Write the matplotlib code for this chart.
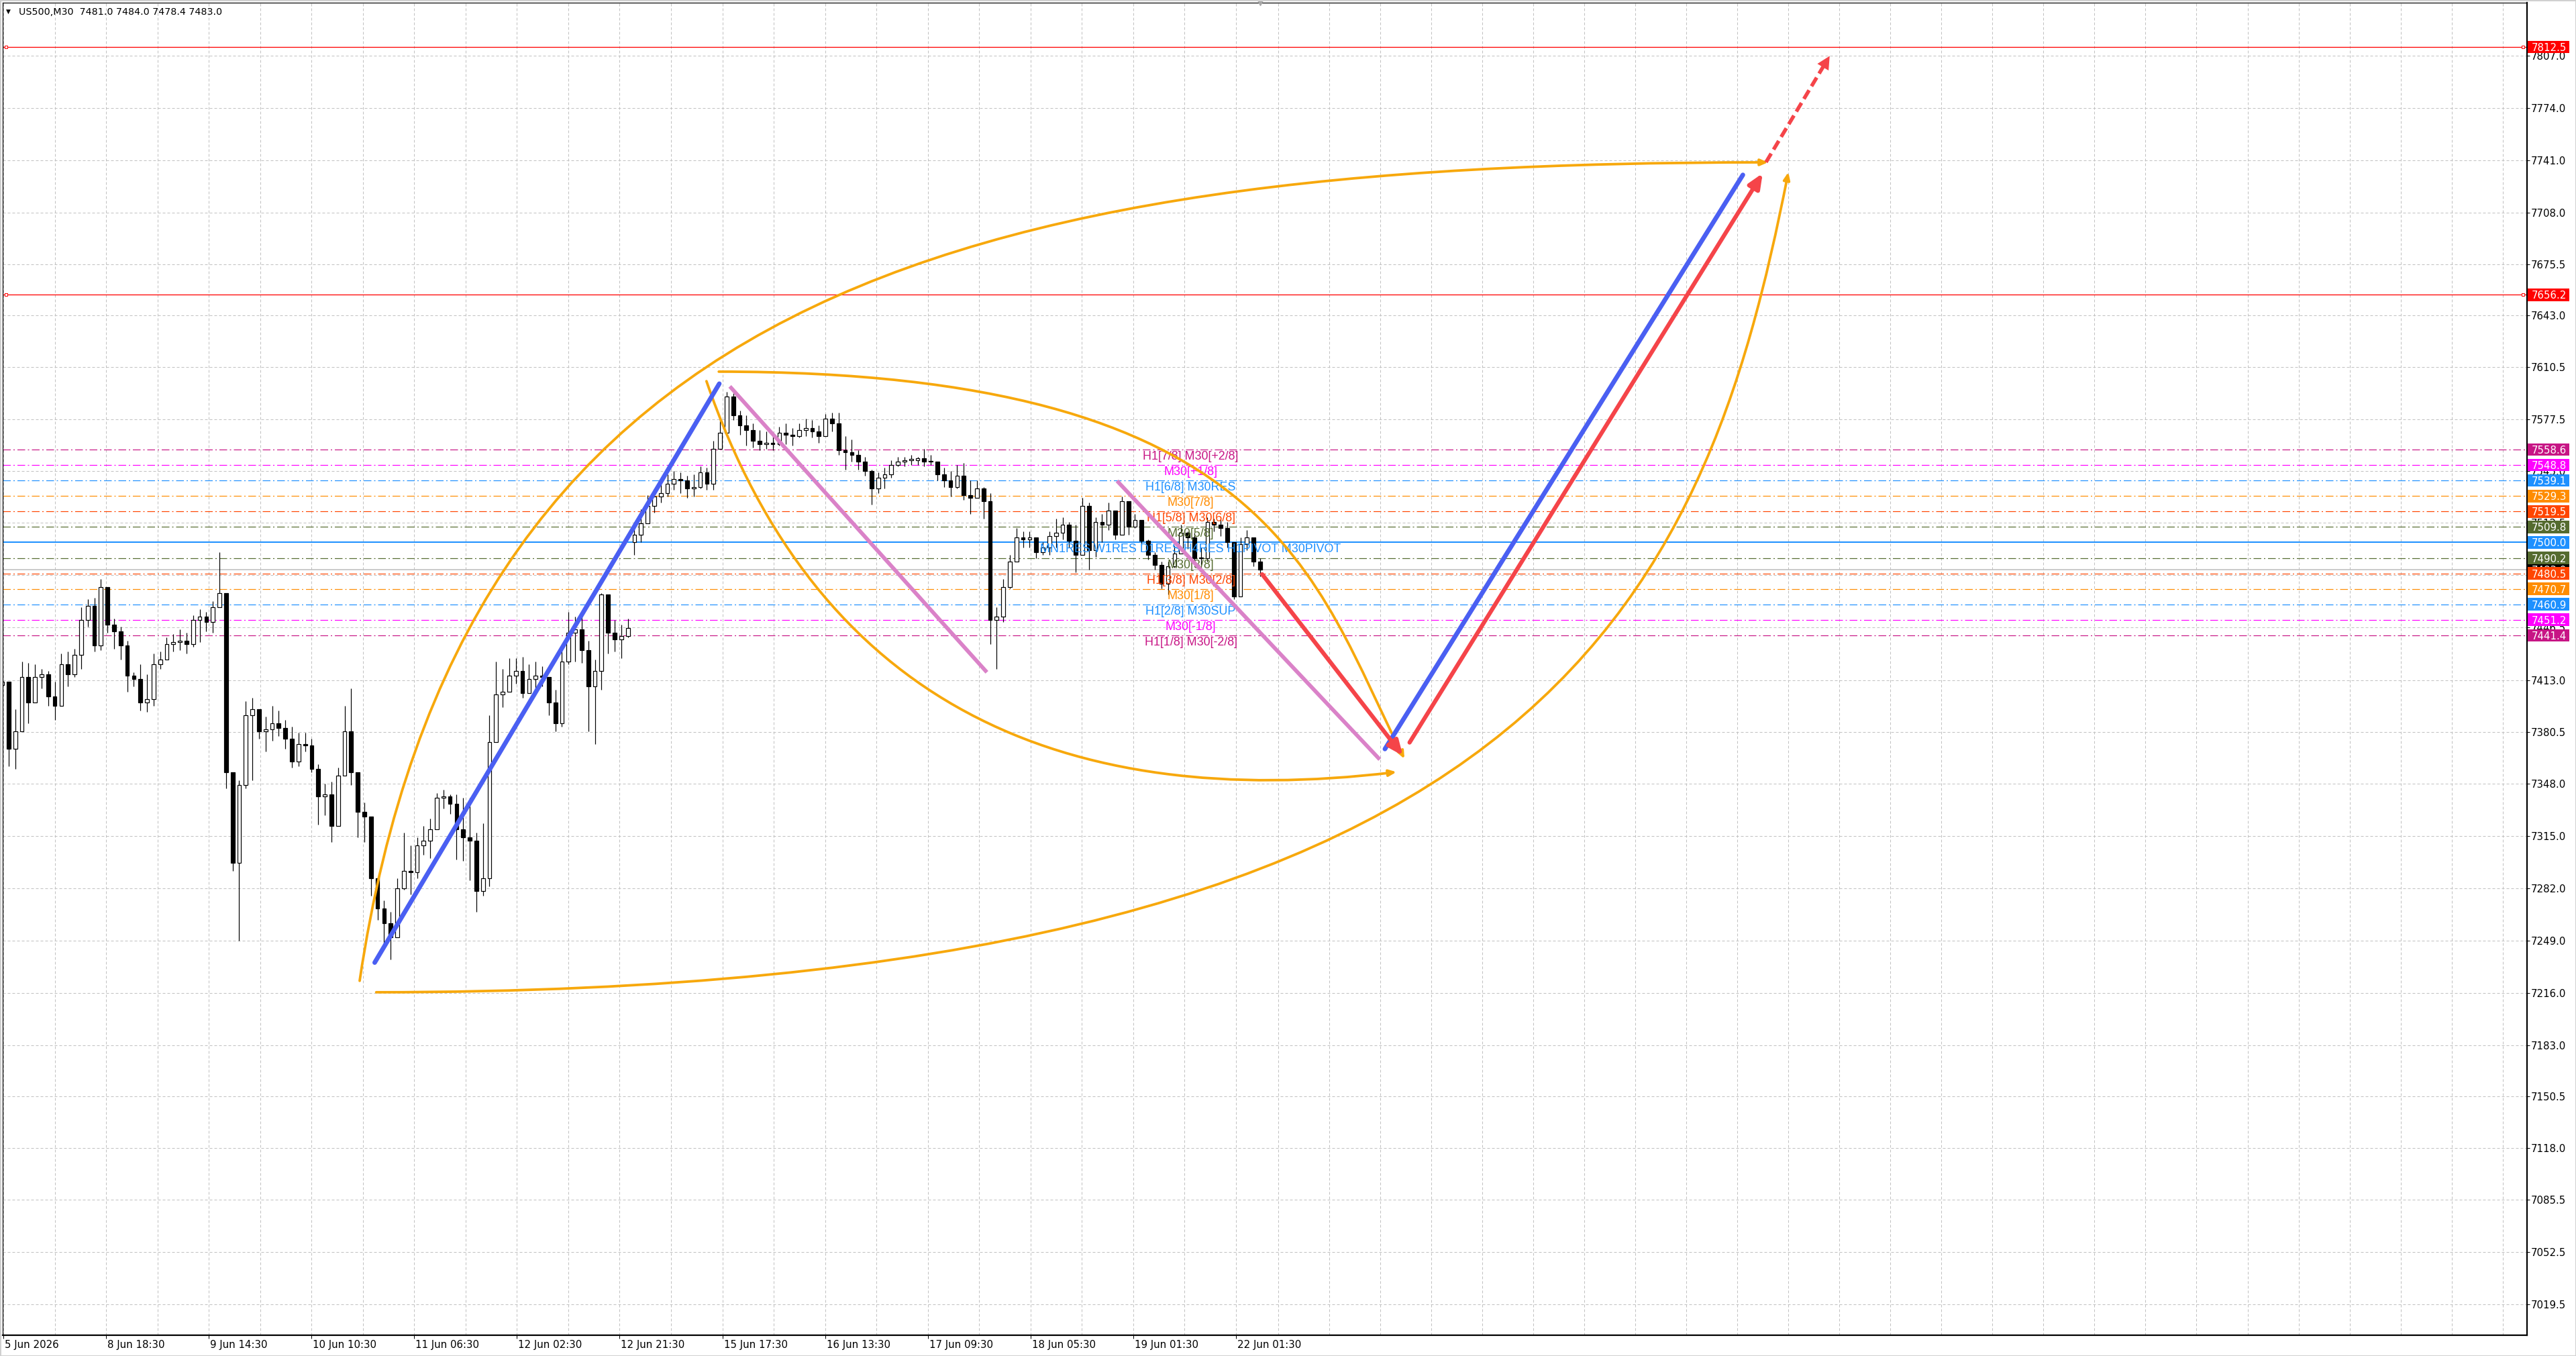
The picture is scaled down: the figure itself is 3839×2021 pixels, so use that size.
import numpy as np
import matplotlib
matplotlib.use('Agg')
import matplotlib.pyplot as plt
from matplotlib.patches import Rectangle, FancyArrowPatch, ArrowStyle
from matplotlib.path import Path
import matplotlib.transforms as mtransforms

plt.rcParams['font.family'] = ['DejaVu Sans']
plt.rcParams['lines.scale_dashes'] = False

# ---------------- data ----------------
header_text = "US500,M30  7481.0 7484.0 7478.4 7483.0"

first_open = 7410.0
gap_opens = {96: 7500.0}

closes = [
    7412, 7370, 7381, 7415, 7399, 7415, 7417, 7403, 7397, 7423,
    7417, 7429, 7451, 7460, 7435, 7472, 7448, 7444, 7435, 7416,
    7414, 7399, 7401, 7423, 7426, 7436, 7437, 7438, 7436, 7451,
    7453, 7450, 7459, 7468, 7355, 7298, 7347, 7391, 7395, 7381,
    7382, 7386, 7383, 7376, 7362, 7373, 7372, 7357, 7340, 7341,
    7321, 7353, 7381, 7355, 7330, 7327, 7288, 7269, 7260, 7251,
    7282, 7293, 7292, 7309, 7312, 7319, 7339, 7340, 7335, 7319,
    7314, 7312, 7280, 7288, 7374, 7404, 7406, 7416, 7419, 7405,
    7414, 7416, 7415, 7399, 7386, 7425, 7443, 7445, 7432, 7409,
    7419, 7467, 7443, 7439, 7441, 7446, 7505, 7512, 7523, 7529,
    7531, 7537, 7540, 7539, 7534, 7535, 7544, 7537, 7559, 7569,
    7592, 7580, 7574, 7571, 7564, 7562, 7563, 7562, 7569, 7568,
    7567, 7571, 7572, 7570, 7567, 7578, 7575, 7558, 7557, 7555,
    7551, 7545, 7534, 7541, 7543, 7549, 7551, 7552, 7552, 7553,
    7551, 7551, 7543, 7539, 7535, 7542, 7530, 7528, 7534, 7526,
    7451, 7453, 7472, 7488, 7503, 7502, 7503, 7494, 7497, 7504,
    7506, 7511, 7501, 7492, 7523, 7495, 7513, 7511, 7520, 7505,
    7526, 7510, 7514, 7501, 7492, 7486, 7474, 7485, 7493, 7506,
    7503, 7490, 7490, 7513, 7511, 7509, 7500, 7466, 7499, 7503,
    7488, 7483.0]

highs = [
    7428, 7400, 7395, 7425, 7424, 7423, 7420, 7419, 7412, 7430,
    7431, 7433, 7459, 7464, 7465, 7477, 7467, 7452, 7447, 7438,
    7418, 7423, 7417, 7430, 7431, 7440, 7442, 7445, 7443, 7454,
    7458, 7456, 7463, 7494, 7468, 7345, 7350, 7400, 7402, 7395,
    7390, 7397, 7394, 7388, 7384, 7380, 7380, 7376, 7360, 7348,
    7349, 7358, 7397, 7408, 7355, 7336, 7327, 7285, 7274, 7267,
    7288, 7317, 7309, 7314, 7321, 7326, 7342, 7344, 7341, 7341,
    7339, 7339, 7317, 7323, 7391, 7425, 7420, 7427, 7427, 7428,
    7423, 7425, 7422, 7415, 7407, 7433, 7456, 7453, 7456, 7438,
    7426, 7468, 7456, 7451, 7448, 7452, 7513, 7521, 7530, 7534,
    7539, 7543, 7545, 7544, 7542, 7543, 7548, 7547, 7564, 7579,
    7595, 7594, 7583, 7580, 7575, 7571, 7570, 7569, 7573, 7575,
    7572, 7575, 7578, 7577, 7574, 7581, 7582, 7582, 7567, 7565,
    7558, 7554, 7546, 7544, 7547, 7552, 7554, 7554, 7555, 7554,
    7559, 7555, 7551, 7547, 7545, 7549, 7550, 7539, 7539, 7535,
    7531, 7459, 7477, 7492, 7509, 7507, 7507, 7502, 7500, 7507,
    7515, 7516, 7513, 7511, 7528, 7525, 7516, 7518, 7525, 7516,
    7529, 7525, 7518, 7513, 7502, 7494, 7488, 7488, 7498, 7511,
    7507, 7506, 7497, 7516, 7515, 7515, 7513, 7491, 7503, 7508,
    7497, 7490]

lows = [
    7402, 7359, 7357, 7381, 7386, 7402, 7408, 7397, 7388, 7403,
    7409, 7415, 7420, 7447, 7431, 7432, 7443, 7433, 7426, 7406,
    7409, 7394, 7393, 7397, 7420, 7426, 7431, 7432, 7430, 7434,
    7437, 7444, 7443, 7460, 7345, 7293, 7249, 7345, 7350, 7376,
    7368, 7375, 7378, 7370, 7358, 7359, 7368, 7355, 7322, 7328,
    7311, 7322, 7353, 7347, 7314, 7311, 7277, 7262, 7246, 7237,
    7256, 7281, 7278, 7288, 7303, 7301, 7327, 7332, 7329, 7300,
    7299, 7287, 7267, 7277, 7283, 7378, 7396, 7406, 7411, 7402,
    7407, 7407, 7409, 7391, 7381, 7384, 7423, 7425, 7424, 7381,
    7373, 7407, 7430, 7431, 7427, 7440, 7492, 7500, 7517, 7519,
    7525, 7529, 7533, 7531, 7528, 7529, 7534, 7533, 7533, 7559,
    7573, 7577, 7568, 7561, 7560, 7558, 7559, 7558, 7561, 7562,
    7561, 7566, 7567, 7566, 7563, 7571, 7570, 7555, 7546, 7551,
    7546, 7542, 7524, 7531, 7534, 7541, 7548, 7548, 7549, 7549,
    7548, 7549, 7539, 7535, 7529, 7534, 7527, 7518, 7528, 7515,
    7436, 7420, 7450, 7471, 7490, 7497, 7497, 7490, 7492, 7492,
    7497, 7502, 7497, 7481, 7500, 7483, 7491, 7500, 7508, 7502,
    7508, 7505, 7509, 7498, 7489, 7483, 7471, 7467, 7484, 7499,
    7496, 7486, 7484, 7488, 7507, 7504, 7497, 7464, 7489, 7495,
    7485, 7478.4]

time_labels = ["5 Jun 2026", "8 Jun 18:30", "9 Jun 14:30", "10 Jun 10:30",
               "11 Jun 06:30", "12 Jun 02:30", "12 Jun 21:30", "15 Jun 17:30",
               "16 Jun 13:30", "17 Jun 09:30", "18 Jun 05:30", "19 Jun 01:30",
               "22 Jun 01:30"]

price_ticks = [7807.0, 7774.0, 7741.0, 7708.0, 7675.5, 7643.0, 7610.5, 7577.5,
               7545.0, 7512.5, 7479.5, 7446.5, 7413.0, 7380.5, 7348.0, 7315.0,
               7282.0, 7249.0, 7216.0, 7183.0, 7150.5, 7118.0, 7085.5, 7052.5,
               7019.5]

level_prices = [7558.6, 7548.8, 7539.1, 7529.3, 7519.5, 7509.8, 7500.0,
                7490.2, 7480.5, 7470.7, 7460.9, 7451.2, 7441.4]
level_colors = ['#C71585', '#FF00FF', '#1E90FF', '#FF8C00', '#FF4500', '#556B2F',
                '#1E90FF', '#556B2F', '#FF4500', '#FF8C00', '#1E90FF', '#FF00FF',
                '#C71585']
level_texts = ['H1[7/8] M30[+2/8]', 'M30[+1/8]', 'H1[6/8] M30RES', 'M30[7/8]',
               'H1[5/8] M30[6/8]', 'M30[5/8]',
               'MN1RES W1RES D1RES H4RES H1PIVOT M30PIVOT',
               'M30[3/8]', 'H1[3/8] M30[2/8]', 'M30[1/8]', 'H1[2/8] M30SUP',
               'M30[-1/8]', 'H1[1/8] M30[-2/8]']
red_levels = [7812.5, 7656.2]
current_price = 7483.0

# drawing objects: (bar index, price)
blue_lines = [[(144.6, 7235.0), (278.8, 7600.1)],
              [(538.0, 7369.7), (677.4, 7731.8)]]
pink_lines = [[(282.9, 7598.4), (383.0, 7418.1)],
              [(433.7, 7538.8), (536.0, 7363.1)]]
red_arrows = [[(490.2, 7479.9), (545.0, 7365.5)],
              [(547.6, 7373.8), (685.1, 7732.8)]]
red_dashed_arrow = [(686.4, 7739.8), (711.2, 7806.8)]
orange_curves = [
    [(138.75, 7223.5), (178.0, 7650.0), (364.5, 7739.7), (687.2, 7739.7)],
    [(145.2, 7216.3), (600.0, 7216.3), (662.0, 7462.0), (695.1, 7733.5)],
    [(278.6, 7607.7), (495.2, 7607.7), (510.3, 7476.5), (545.6, 7363.5)],
    [(273.8, 7601.7), (317.0, 7398.0), (412.5, 7330.0), (542.5, 7355.2)],
]

# ---------------- layout ----------------
W, H = 3839, 2021
L, R, T, B = 4, 3766, 4, 1990
PX = 0.72                      # points per pixel at dpi 100
BAR_PX = 3.827                 # pixels per bar
fig = plt.figure(figsize=(W / 100, H / 100), dpi=100)
fig.patch.set_facecolor('white')
ax = fig.add_axes([L / W, 1 - B / H, (R - L) / W, (B - T) / H])
ax.set_facecolor('white')
ax.set_xlim((L - 5) / BAR_PX, (R - 5) / BAR_PX)
ax.set_ylim(7000.0, 7840.4)

# outer window border
fig.patches.append(Rectangle((0, 0), 1, 1, transform=fig.transFigure, fill=False,
                             edgecolor='#D0D0D0', linewidth=3 * PX, zorder=0))

# grid
grid_color = '#C0C0C0'
grid_ls = (0, (4 * PX, 3 * PX))
for y in price_ticks:
    ax.axhline(y, color=grid_color, lw=1 * PX, ls=grid_ls, zorder=0.5)
grid_x = list(range(0, 481, 20)) + [496.4 + 19.87 * j for j in range(25)]
for x in grid_x:
    ax.axvline(x, color=grid_color, lw=1 * PX, ls=grid_ls, zorder=0.5)

# level lines and labels
dashdot = (0, (11.5 * PX, 4 * PX, 2 * PX, 4 * PX))
down = mtransforms.ScaledTranslation(0, -2 / 100, fig.dpi_scale_trans)
label_center_bar = 462.4
for p, c, t in zip(level_prices, level_colors, level_texts):
    if p == 7500.0:
        ax.axhline(p, color=c, lw=2 * PX, ls='-', zorder=1)
    else:
        ax.axhline(p, color=c, lw=1.2 * PX, ls=dashdot, zorder=1)
    ax.text(label_center_bar, p, t, color=c, ha='center', va='top', fontsize=12.9,
            family=['Liberation Sans', 'DejaVu Sans'], zorder=3,
            transform=ax.transData + down)

ax.axhline(current_price, color='#C0C0C0', lw=1.6 * PX, zorder=1)
trans_lab = mtransforms.blended_transform_factory(ax.transAxes, ax.transData)
for p in red_levels:
    ax.axhline(p, color='red', lw=1.3 * PX, zorder=1)
    ax.plot([0.0012, 0.9985], [p, p], ls='none', marker='s', ms=5 * PX, mfc='white',
            mec='red', mew=1 * PX, transform=trans_lab, zorder=1.2, clip_on=False)

# candles
closes_a = np.array(closes, dtype=float)
n = len(closes_a)
opens_a = np.concatenate([[first_open], closes_a[:-1]])
for k, v in gap_opens.items():
    opens_a[k] = v
highs_a = np.maximum(np.array(highs, dtype=float)[:n], np.maximum(opens_a, closes_a))
lows_a = np.minimum(np.array(lows, dtype=float)[:n], np.minimum(opens_a, closes_a))
xs = np.arange(n) * 2.565 - 0.5
ax.vlines(xs, lows_a, highs_a, color='black', lw=1.2 * PX, zorder=2)
up = closes_a >= opens_a
bottoms = np.minimum(opens_a, closes_a)
heights = np.maximum(np.abs(closes_a - opens_a), 0.5)
ax.bar(xs[up], heights[up], bottom=bottoms[up], width=1.5, facecolor='white',
       edgecolor='black', linewidth=1.2 * PX, zorder=2.1)
ax.bar(xs[~up], heights[~up], bottom=bottoms[~up], width=1.5, facecolor='black',
       edgecolor='black', linewidth=1.2 * PX, zorder=2.1)

# orange curves
orange = '#F7A80C'
codes = [Path.MOVETO, Path.CURVE4, Path.CURVE4, Path.CURVE4]
for pts in orange_curves:
    style = ArrowStyle('-|>', head_length=6.5, head_width=2.8)
    arr = FancyArrowPatch(path=Path(pts, codes), arrowstyle=style, mutation_scale=1,
                          color=orange, lw=3.8 * PX, zorder=4, transform=ax.transData,
                          capstyle='round', joinstyle='round')
    ax.add_patch(arr)

# pink lines
for seg in pink_lines:
    (xa, ya), (xb, yb) = seg
    ax.plot([xa, xb], [ya, yb], color='#DA82C8', lw=5.8 * PX, solid_capstyle='butt',
            zorder=5)

# blue lines
for seg in blue_lines:
    (xa, ya), (xb, yb) = seg
    ax.plot([xa, xb], [ya, yb], color='#4A5FF2', lw=6.8 * PX, solid_capstyle='round',
            zorder=5)

# red arrows
red = '#F54449'
for seg in red_arrows:
    arr = FancyArrowPatch(seg[0], seg[1], arrowstyle=ArrowStyle('-|>', head_length=13,
                          head_width=5.6), mutation_scale=1, color=red, lw=6.2 * PX,
                          shrinkA=0, shrinkB=0, zorder=5.5)
    ax.add_patch(arr)
ax.plot([red_dashed_arrow[0][0], red_dashed_arrow[1][0] - 1.5],
        [red_dashed_arrow[0][1], red_dashed_arrow[1][1] - 4],
        color=red, lw=5.5 * PX, ls=(0, (15 * PX, 7 * PX)), solid_capstyle='butt',
        dash_capstyle='butt', zorder=5.5)
ax.add_patch(FancyArrowPatch(red_dashed_arrow[0], red_dashed_arrow[1],
                             arrowstyle=ArrowStyle('-|>', head_length=14, head_width=7),
                             mutation_scale=1, color=red, lw=0, shrinkA=0, shrinkB=0,
                             zorder=5.6))

# price labels on the right axis
box_x0 = (3767 - L) / (R - L)
box_w = 62 / (R - L)
box_h = 18.7 / ((B - T) / 840.4)
text_x = (3772.5 - L) / (R - L)


def price_label(p, bg, z):
    ax.add_patch(Rectangle((box_x0, p - box_h / 2), box_w, box_h, transform=trans_lab,
                           facecolor=bg, edgecolor='none', clip_on=False, zorder=z))
    ax.text(text_x, p, f"{p:.1f}", transform=trans_lab, color='white', ha='left',
            va='center_baseline', fontsize=10.8, clip_on=False, zorder=z + 0.1)


price_label(current_price, 'black', 10)
for p in red_levels:
    price_label(p, '#FF0000', 11)
for p, c in zip(level_prices, level_colors):
    price_label(p, c, 11)

# axes, ticks
ax.yaxis.tick_right()
ax.set_yticks(price_ticks)
ax.set_yticklabels([f"{v:.1f}" for v in price_ticks])
ax.tick_params(axis='y', direction='out', length=4 * PX, width=1 * PX, pad=2 * PX,
               labelsize=10.8, colors='black')
ax.set_xticks(np.arange(len(time_labels)) * 40)
ax.set_xticklabels(time_labels)
ax.tick_params(axis='x', direction='out', length=5 * PX, width=1 * PX, pad=2.5 * PX,
               labelsize=10.8, colors='black')
offset = mtransforms.ScaledTranslation(2 / 100, 0, fig.dpi_scale_trans)
for lab in ax.get_xticklabels():
    lab.set_horizontalalignment('left')
    lab.set_transform(lab.get_transform() + offset)

for side, w in [('left', 1.2), ('top', 1.2), ('right', 2.2), ('bottom', 2.2)]:
    ax.spines[side].set_color('black')
    ax.spines[side].set_linewidth(w * PX)

# chart-shift marker
ax.plot([xs[-1]], [7840.4], marker='v', color='#A8A8A8', ms=8 * PX, ls='none',
        clip_on=False, zorder=6)

# header
fig.text(9 / W, 1 - 17.5 / H, "\u25BC", fontsize=6.5, va='center', ha='left')
fig.text(28 / W, 1 - 17.5 / H, header_text, fontsize=10.3, va='center', ha='left')

fig.savefig('out.png', dpi=100, facecolor='white')
